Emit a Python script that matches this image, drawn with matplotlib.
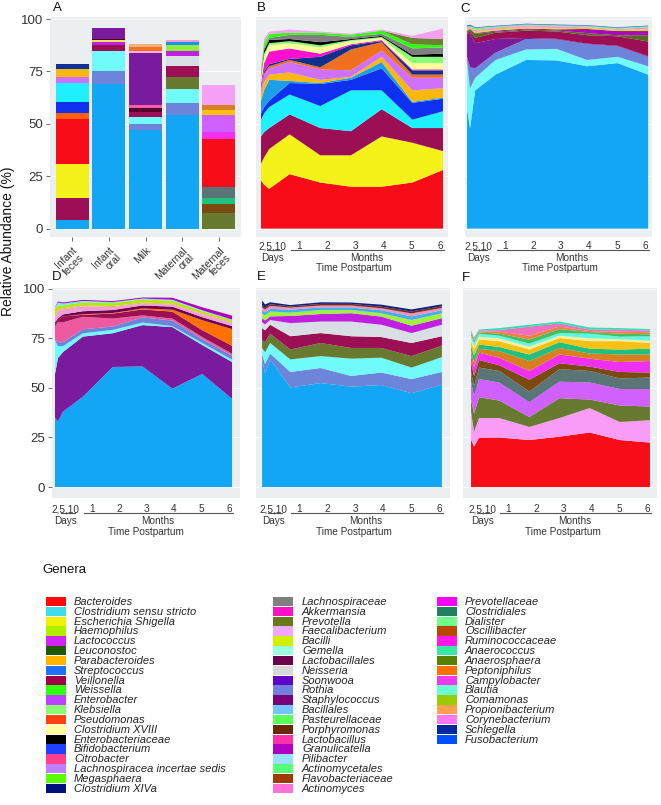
import matplotlib
matplotlib.use("Agg")
import matplotlib.pyplot as plt
from matplotlib import transforms
from matplotlib.patches import Rectangle
import numpy as np

plt.rcParams['font.family'] = ['Liberation Sans', 'DejaVu Sans']

# ---------------- data ----------------
days = [2, 5, 10, 30, 60, 90, 120, 150, 180]
month_labels = ["1", "2", "3", "4", "5", "6"]
yticks = [0, 25, 50, 75, 100]

# Panel A: stacked bars per sample type (values bottom -> top)
a_samples = ["Infant\nfeces", "Infant\noral", "Milk", "Maternal\noral", "Maternal\nfeces"]
a_infant_feces = [4, 10.8, 16.2, 21.5, 2.5, 5.5, 9, 2.9, 3.9, 2.3]
a_infant_oral = [69, 6, 9.6, 0.4, 2.8, 1.2, 0.8, 0.7, 5.2]
a_milk = [47, 2.7, 3.6, 2.4, 1.8, 1.5, 24.8, 1.2, 1.7, 1.3]
a_maternal_oral = [54, 6, 6.7, 5.5, 5.3, 5, 2.5, 2.8, 1.2, 1]
a_maternal_feces = [7.3, 4.3, 2.8, 5.4, 23.1, 3.3, 7.8, 2.5, 2.7, 9.2]

# Panel B: infant feces over time (layer thickness per time point)
b_values = [
    [23, 21, 19, 26, 22, 20, 20, 22, 28],
    [8, 13, 19, 19, 13, 15, 24, 19, 9],
    [13, 12, 10, 9.5, 13, 11.5, 13, 7, 11],
    [8, 9, 10, 9.5, 10.5, 19.5, 9, 4, 8],
    [3, 3, 3, 5.5, 10.5, 5, 10.5, 8, 6],
    [6, 8, 10, 1, 0.5, 1, 3, 0.5, 0.5],
    [3, 4, 2.5, 4, 1.5, 0.5, 2.5, 5.5, 4.5],
    [2, 3, 3, 5, 5, 3, 3, 6, 5],
    [1, 1, 1, 1, 1, 10, 4, 1.5, 1.5],
    [0.5, 1, 1, 0.5, 5, 2, 0.5, 2, 2],
    [2, 4, 6, 5, 1.5, 0.5, 0.5, 0.5, 0.5],
    [2, 3, 3, 2.5, 3, 1.5, 1, 3, 3],
    [1, 1.5, 1, 1, 1, 0.5, 0.5, 3, 3],
    [0.5, 1.5, 1.5, 1, 1.5, 0.5, 0.5, 1, 1.5],
    [1, 1, 1, 2, 3.5, 1, 1, 3, 3],
    [1.5, 2.5, 2, 1, 1, 1, 1.5, 2, 1],
    [0, 0, 0, 0, 0, 0, 0, 3, 3],
    [1, 2, 1, 1.5, 0.5, 0.5, 0.5, 1, 5],
]

# Panel C: infant oral over time
c_values = [
    [57, 48, 66, 73.5, 80.5, 80.3, 77.5, 79, 73.5],
    [23, 19, 6, 7, 5, 5.5, 3, 3, 4],
    [2, 10, 4.5, 3.5, 5, 4.5, 7.5, 5, 4.5],
    [11, 16, 12, 6.5, 0.5, 0.3, 0.3, 0.3, 0.3],
    [0.5, 1, 2.5, 3, 3.5, 3.5, 4, 4.5, 7],
    [0.5, 1, 2, 0.5, 0.5, 0.5, 1, 0.5, 3],
    [0.5, 0.3, 0.3, 0.5, 0.5, 0.5, 2, 2, 2],
    [0.5, 0.5, 0.5, 0.5, 0.5, 0.5, 0.5, 0.5, 0.8],
    [1, 0.5, 1, 1, 1, 1, 0.5, 0.5, 1],
    [0.5, 0.5, 1, 0.5, 0.5, 0.5, 0.5, 0.5, 0.5],
    [0.5, 0.5, 0.3, 0.3, 0.3, 0.3, 0.3, 0.3, 0.3],
]

# Panel D: milk over time
d_values = [
    [35, 33, 38, 45.5, 60.5, 60.8, 49.6, 57, 44.5],
    [22, 32, 30, 30.3, 17, 20.8, 31, 14.6, 18.5],
    [17, 6, 3, 1.7, 1.7, 1.3, 0.5, 1, 1.2],
    [1, 2, 2, 2, 1.7, 2.6, 2.8, 2, 2],
    [6, 10, 10, 6.3, 4, 1, 1, 1, 1],
    [1, 1, 3, 1, 2.5, 3, 3.5, 3.5, 4],
    [0, 0, 0, 0.3, 0.3, 0.5, 1, 5, 8.4],
    [1, 1, 1, 1.5, 1.5, 1.5, 1.5, 1.5, 1.5],
    [2, 4, 2.5, 2.5, 1.5, 1, 1, 1.5, 1.5],
    [1, 1, 0.5, 0.5, 0.5, 0.5, 0.5, 0.5, 0.5],
    [4, 1.5, 1.5, 1.5, 1.5, 1.5, 1.5, 1, 1],
    [0.5, 1.5, 1, 0.7, 0.5, 0.5, 0.5, 0.5, 0.3],
    [0.2, 0.5, 0.5, 0.5, 0.5, 0.5, 1, 1.5, 2],
]

# Panel E: maternal oral over time
e_values = [
    [65, 57, 64.3, 50.2, 52.4, 50.6, 51.4, 47.3, 51.6],
    [2, 5, 3, 7.8, 7.6, 5.4, 6.3, 7.1, 6.4],
    [3, 6, 5.3, 6.3, 6, 8.7, 7.5, 5.8, 7.5],
    [4, 5, 4.7, 5, 6.6, 5.4, 4.9, 5.8, 5.8],
    [6, 6, 4.5, 6.7, 5, 5.9, 5.5, 6.6, 4.7],
    [3, 3, 2.4, 6.6, 5.8, 7.4, 6.2, 5, 5.8],
    [2, 2, 1.8, 3.6, 3.8, 4.2, 4.1, 3.7, 3.3],
    [2.5, 2.5, 2.5, 1.7, 2, 1.6, 1.7, 2.9, 2.5],
    [1.5, 1.5, 1.3, 1.5, 1.3, 1.3, 1.5, 1.8, 1.5],
    [1.5, 1.5, 1.5, 1, 1, 1, 1, 1.5, 1.2],
    [1, 1, 0.8, 0.6, 0.8, 0.8, 0.8, 1, 0.8],
    [2.5, 1.5, 1, 0.7, 0.8, 0.7, 1, 1, 1],
]

# Panel F: maternal feces over time
f_values = [
    [24, 20.4, 24.9, 25, 23.7, 25.4, 27.5, 23.7, 22.4],
    [14, 7.5, 9.9, 9.8, 6.6, 9.4, 12.3, 9.1, 11.3],
    [6, 9, 10.5, 8.8, 5, 10, 4.3, 8.3, 6.9],
    [9, 9, 9.1, 9.1, 7.5, 8.3, 8.6, 8.3, 8.8],
    [5, 5, 5.8, 5.8, 5.3, 6.3, 5.8, 5.3, 5.8],
    [5, 5, 3.8, 2.9, 6, 3, 2.2, 3.3, 2.5],
    [3, 4.5, 3.7, 3.8, 4.4, 4.4, 4, 5, 5.8],
    [2.5, 2.5, 2, 3.3, 5, 3.3, 2.6, 3.8, 3.3],
    [2.5, 3.5, 2.1, 2.1, 3.3, 2.9, 2.4, 2.5, 2.9],
    [2.5, 3, 2.5, 2.9, 2.5, 2.1, 3.8, 4.2, 2.9],
    [1.5, 1.5, 1.5, 1.5, 1.5, 1.2, 1.5, 1, 1.2],
    [1.5, 2, 1.5, 1.3, 1.5, 1.3, 2.3, 1.3, 2.2],
    [1, 1, 0.6, 1, 2, 2, 0.8, 1.5, 1],
    [0.5, 0.5, 0.5, 1, 2, 1.3, 0.5, 1, 1],
    [0.5, 0.5, 0.5, 0.8, 4.5, 1.5, 0.8, 1, 0.8],
    [0.5, 0.5, 0.5, 1, 1, 1, 1, 0.8, 0.8],
]

# Legend
legend_col1 = ["Bacteroides", "Clostridium sensu stricto", "Escherichia Shigella", "Haemophilus",
               "Lactococcus", "Leuconostoc", "Parabacteroides", "Streptococcus", "Veillonella",
               "Weissella", "Enterobacter", "Klebsiella", "Pseudomonas", "Clostridium XVIII",
               "Enterobacteriaceae", "Bifidobacterium", "Citrobacter",
               "Lachnospiracea incertae sedis", "Megasphaera", "Clostridium XIVa"]
legend_col2 = ["Lachnospiraceae", "Akkermansia", "Prevotella", "Faecalibacterium", "Bacilli",
               "Gemella", "Lactobacillales", "Neisseria", "Soonwooa", "Rothia", "Staphylococcus",
               "Bacillales", "Pasteurellaceae", "Porphyromonas", "Lactobacillus", "Granulicatella",
               "Pilibacter", "Actinomycetales", "Flavobacteriaceae", "Actinomyces"]
legend_col3 = ["Prevotellaceae", "Clostridiales", "Dialister", "Oscillibacter", "Ruminococcaceae",
               "Anaerococcus", "Anaerosphaera", "Peptoniphilus", "Campylobacter", "Blautia",
               "Comamonas", "Propionibacterium", "Corynebacterium", "Schlegella", "Fusobacterium"]

# ---------------- styles ----------------
SKY = "#12A6F4"; MAROON = "#9C0F55"; YELLOW = "#F4F218"; RED = "#F80C18"
CYAN = "#1EF0FF"; LCYAN = "#70FAFA"; SLATE = "#6C84DA"; STAPH = "#7A1A9C"
OLIVE = "#687A30"; NEISS = "#D8DFE4"

a_colors = [
    [SKY, MAROON, YELLOW, RED, "#FF6010", "#1030F0", CYAN, "#D070FF", "#F8B810", "#10309A"],
    [SKY, SLATE, LCYAN, "#40C040", MAROON, "#C020E0", "#E8E860", "#500030", STAPH],
    [SKY, SLATE, LCYAN, MAROON, "#5A0030", "#F060A0", STAPH, "#F8B0E0", "#F87020", "#F0B080"],
    [SKY, SLATE, LCYAN, OLIVE, MAROON, NEISS, "#C020E0", "#90F040", "#2090F0", "#F0A0D0"],
    [OLIVE, "#7A4A10", "#20C080", "#5A7578", RED, "#F030F0", "#D060FF", "#F8C010", "#D88020", "#F8A0F8"],
]
b_colors = [RED, YELLOW, MAROON, CYAN, "#1030F0", "#1C9EE8", "#F8B810", "#D070FF", "#F07020",
            "#10308C", "#FF10D0", "#FFFF99", "#88FF77", "#000000", "#808080", "#30FF10",
            "#6B8030", "#F5A0F0"]
c_colors = [SKY, LCYAN, SLATE, STAPH, MAROON, "#556B20", "#B000C0", "#C8E800", "#F8A0C0",
            "#80F080", "#2060F0"]
d_colors = [SKY, STAPH, LCYAN, SLATE, "#EE5AA0", MAROON, "#FF7000", "#700050", "#F0A0D8",
            "#F0B070", "#B8E800", "#70F0F0", "#B000C0"]
e_colors = [SKY, SLATE, LCYAN, OLIVE, MAROON, NEISS, "#C020E0", "#A0F040", "#40B0F0",
            "#F090C0", "#7A2A10", "#102080"]
f_colors = [RED, "#F89CF8", OLIVE, "#D060FF", "#5A7578", "#7A4A10", "#F030F0", "#D88020",
            "#20C080", "#F8C010", "#F0F0A0", "#60F8E0", "#40C060", "#F08040", "#F070C0", "#30E0B0"]

legend_colors1 = ["#FF0A0A", "#40DCEC", "#F2F200", "#AEF000", "#D024F0", "#1E5A00", "#FFB400",
                  "#2070F8", "#A00048", "#30FF10", "#C040FF", "#88FF70", "#FF4010", "#FFFFA0",
                  "#000000", "#2040FF", "#FF4090", "#C080FF", "#58FF00", "#00107E"]
legend_colors2 = ["#7F7F7F", "#FF10C8", "#687A18", "#F0A8FF", "#D0F000", "#98FFE0", "#6E0050",
                  "#D8D8D8", "#6000C8", "#7080E0", "#780078", "#70C4FF", "#58FF58", "#6A2800",
                  "#FF30A8", "#B000C0", "#98E0FF", "#58FF78", "#9C3C00", "#FF70D8"]
legend_colors3 = ["#FF00FF", "#208060", "#70FF88", "#B84800", "#FF18E8", "#38E8A0", "#5A8000",
                  "#FF7000", "#F038F0", "#68FFD0", "#98CC00", "#FFA050", "#FF78F0", "#0028A0",
                  "#0050FF"]

BG = "#EBEFF2"
TXT = "#333333"

W, H = 661, 805
fig = plt.figure(figsize=(W / 100, H / 100), dpi=100)


def px_axes(x0, y0, x1, y1):
    return fig.add_axes([x0 / W, 1 - y1 / H, (x1 - x0) / W, (y1 - y0) / H])


def style(ax, ylim, show_y):
    ax.set_facecolor(BG)
    for s in ax.spines.values():
        s.set_visible(False)
    ax.set_ylim(*ylim)
    ax.set_yticks(yticks)
    ax.grid(axis='y', color='white', lw=0.6, zorder=0)
    ax.set_axisbelow(True)
    if show_y:
        ax.tick_params(axis='y', length=3, width=0.6, color='#555555', pad=2,
                       labelsize=9.5, labelcolor=TXT)
    else:
        ax.tick_params(axis='y', length=0, labelleft=False)


def time_axis(ax, d_num, d_line, d_word, d_title):
    base = transforms.blended_transform_factory(ax.transData, ax.transAxes)

    def tr(dy):
        return base + transforms.ScaledTranslation(0, -dy / 100, fig.dpi_scale_trans)

    month_pos = [39, 67, 94, 121.5, 149.5, 177]
    fs = 7.2
    ax.text(13, 0, "2,5,10", transform=tr(d_num), ha='center', va='center', fontsize=fs, color=TXT)
    for lab, xp in zip(month_labels, month_pos):
        ax.text(xp, 0, lab, transform=tr(d_num), ha='center', va='center', fontsize=fs, color=TXT)
    ax.plot([8, 22], [0, 0], transform=tr(d_line), color='#555555', lw=0.8, clip_on=False)
    ax.plot([31, 181], [0, 0], transform=tr(d_line), color='#555555', lw=0.8, clip_on=False)
    ax.text(13, 0, "Days", transform=tr(d_word), ha='center', va='center', fontsize=fs, color=TXT)
    ax.text(105, 0, "Months", transform=tr(d_word), ha='center', va='center', fontsize=fs, color=TXT)
    ax.text(93, 0, "Time Postpartum", transform=tr(d_title), ha='center', va='center',
            fontsize=fs, color=TXT)
    ax.set_xticks([])


# ---------------- Panel A ----------------
axA = px_axes(50, 17, 241, 237)
style(axA, (-4, 101), True)
a_all = [a_infant_feces, a_infant_oral, a_milk, a_maternal_oral, a_maternal_feces]
xpos = np.arange(1, len(a_samples) + 1)
for i, (vals, cols) in enumerate(zip(a_all, a_colors)):
    bottoms = np.concatenate([[0], np.cumsum(vals)[:-1]])
    axA.bar([xpos[i]] * len(vals), vals, bottom=bottoms, width=0.9, color=cols, linewidth=0, zorder=2)
axA.set_xlim(0.4, 5.6)
axA.set_xticks(xpos)
axA.set_xticklabels(a_samples, rotation=45, ha='right', va='top', rotation_mode='anchor',
                    fontsize=7.5, color=TXT, multialignment='right', linespacing=1.0)
axA.tick_params(axis='x', length=3, width=0.6, color='#555555', pad=3)

# ---------------- time panels ----------------
panels = [
    ("B", (256, 17, 448, 237), (-2.9, 184.9), b_values, b_colors, False, (-4, 101), (9, 13, 21, 31)),
    ("C", (465, 17, 652, 237), (0, 183.8), c_values, c_colors, False, (-4, 101), (9, 13, 21, 31)),
    ("D", (52, 288, 240, 498), (-1, 188), d_values, d_colors, True, (-5.5, 100.3), (11, 15, 23, 34)),
    ("E", (256, 288, 450, 498), (-4, 188), e_values, e_colors, False, (-5.5, 100.3), (11, 15, 23, 34)),
    ("F", (463, 288, 657, 498), (-6, 187), f_values, f_colors, False, (-5.5, 100.3), (11, 15, 23, 34)),
]
for name, box, xl, vals, cols, showy, yl, offs in panels:
    ax = px_axes(*box)
    style(ax, yl, showy)
    ax.stackplot(days, np.array(vals), colors=cols, linewidth=0, zorder=2)
    ax.set_xlim(*xl)
    time_axis(ax, *offs)

# ---------------- overlay: labels and legend ----------------
ov = fig.add_axes([0, 0, 1, 1])
ov.set_xlim(0, W)
ov.set_ylim(H, 0)
ov.axis('off')

for lab, x, y in [("A", 53, 8), ("B", 257, 8), ("C", 460, 9), ("D", 52, 277), ("E", 257, 277), ("F", 462, 278)]:
    ov.text(x, y, lab, ha='left', va='center', fontsize=9.5, color='#111111')

ov.text(8, 241, "Relative Abundance (%)", rotation=90, ha='center', va='center', fontsize=10, color='#111111')
ov.text(42, 570, "Genera", ha='left', va='center', fontsize=9.5, color='#111111')

row_h = 9.83
for names, colors, px0, tx in [(legend_col1, legend_colors1, 46, 74),
                               (legend_col2, legend_colors2, 273, 302),
                               (legend_col3, legend_colors3, 437, 465)]:
    for i, (n, c) in enumerate(zip(names, colors)):
        top = 597 + i * row_h
        ov.add_patch(Rectangle((px0, top), 20, row_h - 0.6, facecolor=c, edgecolor='none'))
        ov.text(tx, top + row_h / 2, n, ha='left', va='center', fontsize=8.0, style='italic',
                color='#222222')

fig.savefig("out.png", dpi=100)
